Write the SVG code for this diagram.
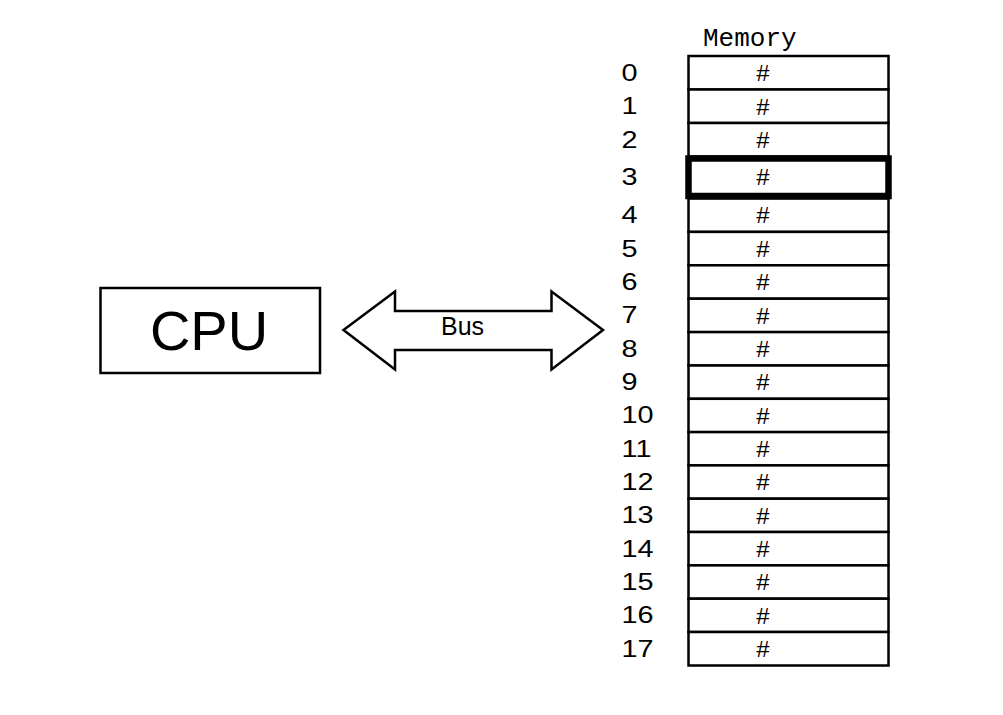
<svg xmlns="http://www.w3.org/2000/svg" width="1003" height="715" viewBox="0 0 1003 715">
<style>
.box{fill:#fff;stroke:#000;stroke-width:2.5}
.sel{fill:#fff;stroke:#000;stroke-width:6.5}
.num{font-family:"Liberation Sans",Arial,sans-serif;font-size:24px;fill:#000}
.hash{font-family:"Liberation Mono","Courier New",monospace;font-size:24px;fill:#000;text-anchor:middle}
</style>
<rect width="1003" height="715" fill="#fff"/>
<g id="cpu">
<rect class="box" x="100.5" y="288" width="219.5" height="85"/>
<text x="209" y="350" font-family="Liberation Sans, Arial, sans-serif" font-size="56" text-anchor="middle">CPU</text>
</g>
<g id="connectors">
<g id="bus">
<polygon class="box" points="343.5,330 395,291.5 395,311 551.5,311 551.5,291.5 603,330 551.5,369.5 551.5,350 395,350 395,369.5"/>
<text x="441" y="335" font-family="Liberation Sans, Arial, sans-serif" font-size="25">Bus</text>
</g>
</g>
<g id="memory">
<text x="703" y="46" font-family="Liberation Mono, Courier New, monospace" font-size="26">Memory</text>
<g id="cells">
<rect class="box" x="688.5" y="56" width="200" height="33.5"/>
<rect class="box" x="688.5" y="89.5" width="200" height="33.5"/>
<rect class="box" x="688.5" y="123" width="200" height="33.5"/>
<rect class="box" x="688.5" y="198.5" width="200" height="33.4"/>
<rect class="box" x="688.5" y="231.9" width="200" height="33.4"/>
<rect class="box" x="688.5" y="265.3" width="200" height="33.4"/>
<rect class="box" x="688.5" y="298.7" width="200" height="33.4"/>
<rect class="box" x="688.5" y="332.1" width="200" height="33.4"/>
<rect class="box" x="688.5" y="365.5" width="200" height="33.3"/>
<rect class="box" x="688.5" y="398.8" width="200" height="33.3"/>
<rect class="box" x="688.5" y="432.1" width="200" height="33.3"/>
<rect class="box" x="688.5" y="465.4" width="200" height="33.3"/>
<rect class="box" x="688.5" y="498.7" width="200" height="33.3"/>
<rect class="box" x="688.5" y="532" width="200" height="33.4"/>
<rect class="box" x="688.5" y="565.4" width="200" height="33.3"/>
<rect class="box" x="688.5" y="598.7" width="200" height="33.3"/>
<rect class="box" x="688.5" y="632" width="200" height="33.5"/>
<rect class="sel" x="688.5" y="158.5" width="200" height="37.5"/>
</g>
<g id="hashes">
<text class="hash" x="763" y="81">#</text>
<text class="hash" x="763" y="114.5">#</text>
<text class="hash" x="763" y="148">#</text>
<text class="hash" x="763" y="185">#</text>
<text class="hash" x="763" y="223">#</text>
<text class="hash" x="763" y="256.5">#</text>
<text class="hash" x="763" y="290">#</text>
<text class="hash" x="763" y="323.5">#</text>
<text class="hash" x="763" y="357">#</text>
<text class="hash" x="763" y="390">#</text>
<text class="hash" x="763" y="423.5">#</text>
<text class="hash" x="763" y="457">#</text>
<text class="hash" x="763" y="490">#</text>
<text class="hash" x="763" y="523.5">#</text>
<text class="hash" x="763" y="557">#</text>
<text class="hash" x="763" y="590">#</text>
<text class="hash" x="763" y="623.5">#</text>
<text class="hash" x="763" y="657">#</text>
</g>
<g id="addresses" transform="matrix(1.2 0 0 1 0 0)">
<text class="num" x="518" y="81">0</text>
<text class="num" x="518" y="114.5">1</text>
<text class="num" x="518" y="148">2</text>
<text class="num" x="518" y="185.5">3</text>
<text class="num" x="518" y="223.5">4</text>
<text class="num" x="518" y="257">5</text>
<text class="num" x="518" y="290.5">6</text>
<text class="num" x="518" y="323.5">7</text>
<text class="num" x="518" y="357">8</text>
<text class="num" x="518" y="390.5">9</text>
<text class="num" x="518" y="423.5">10</text>
<text class="num" x="518" y="457">11</text>
<text class="num" x="518" y="490.5">12</text>
<text class="num" x="518" y="523.5">13</text>
<text class="num" x="518" y="557">14</text>
<text class="num" x="518" y="590.5">15</text>
<text class="num" x="518" y="623.5">16</text>
<text class="num" x="518" y="657">17</text>
</g>
</g>
</svg>
